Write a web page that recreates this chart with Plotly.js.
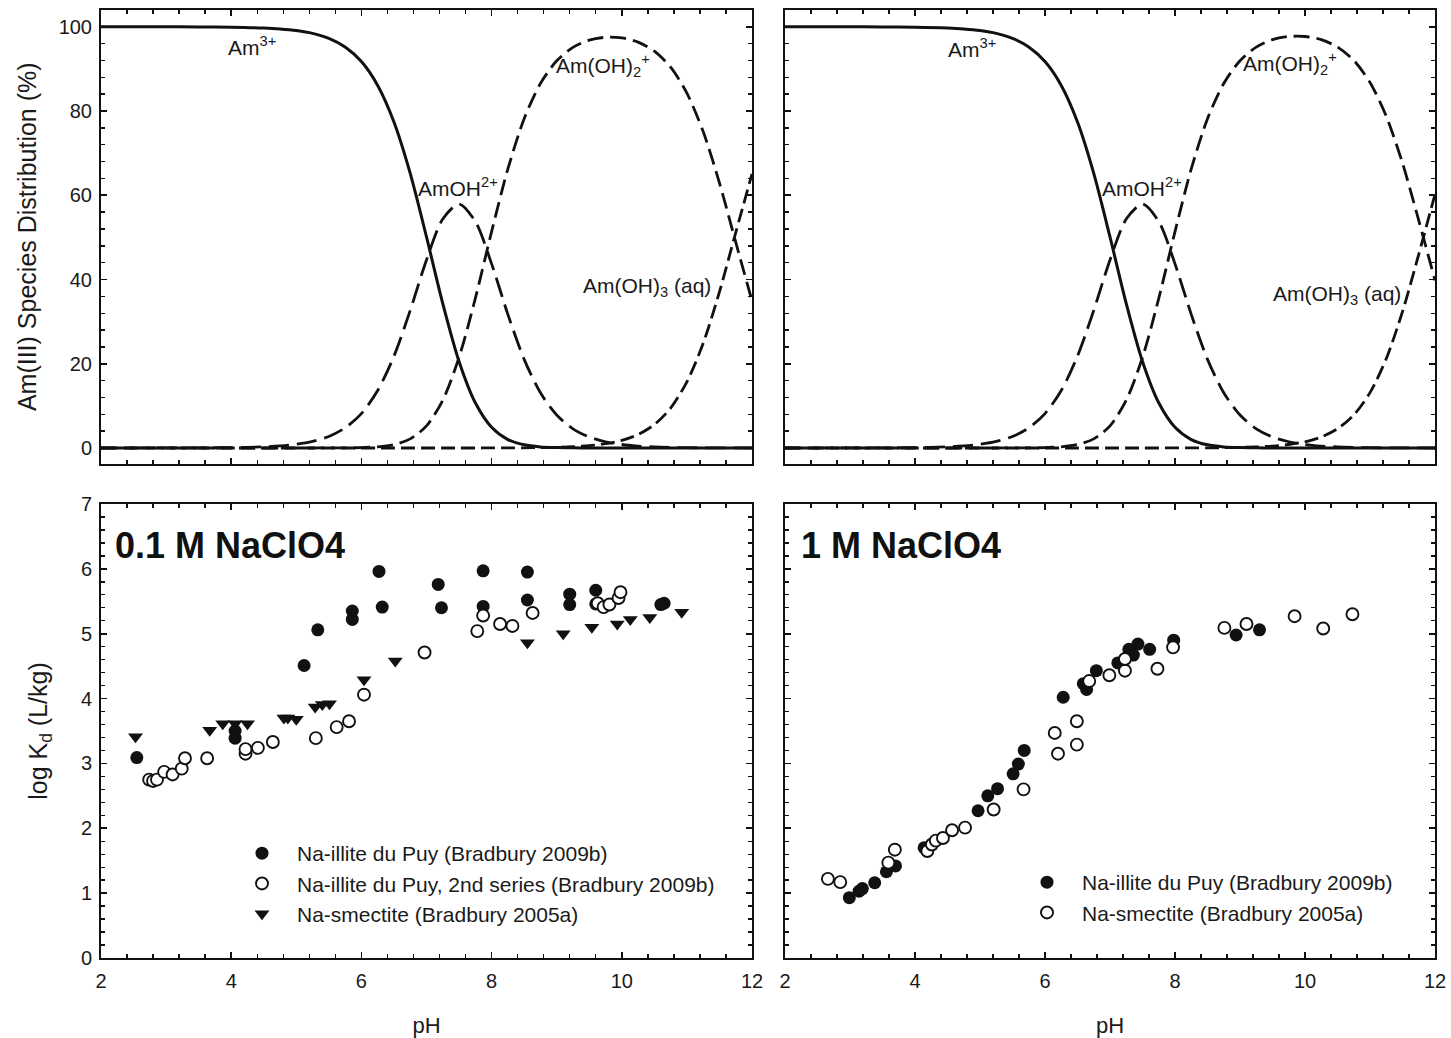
<!DOCTYPE html>
<html>
<head>
<meta charset="utf-8">
<script src="https://cdn.plot.ly/plotly-3.0.1.min.js"></script>
<style>html,body{margin:0;padding:0;background:#fff;}#chart{width:1451px;height:1038px;}</style>
</head>
<body>
<div id="chart"></div>
<script>
// ---------- Top panels: Am(III) species distribution (%) vs pH ----------
const pHcurve = [2, 3, 3.5, 4, 4.5, 4.75, 5, 5.25, 5.5, 5.75, 6, 6.25, 6.5, 6.75, 7, 7.25, 7.5, 7.75, 8, 8.25, 8.5, 8.75, 9, 9.25, 9.5, 9.75, 10, 10.25, 10.5, 10.75, 11, 11.25, 11.5, 11.75, 12];

// left (0.1 M NaClO4)
const amL      = [100, 99.99, 99.97, 99.91, 99.72, 99.50, 99.12, 98.44, 97.25, 95.20, 91.73, 86.07, 77.38, 65.18, 50.10, 34.29, 20.55, 10.73, 4.91, 2.00, 0.75, 0.26, 0.09, 0.03, 0.01, 0, 0, 0, 0, 0, 0, 0, 0, 0, 0];
const amOH_L   = [0, 0.01, 0.03, 0.09, 0.28, 0.50, 0.88, 1.56, 2.74, 4.77, 8.17, 13.64, 21.81, 32.67, 44.65, 54.35, 57.92, 53.76, 43.72, 31.72, 21.04, 13.10, 7.82, 4.55, 2.61, 1.48, 0.83, 0.46, 0.25, 0.14, 0.08, 0.04, 0.02, 0.01, 0];
const amOH2_L  = [0, 0, 0, 0, 0, 0, 0, 0, 0.01, 0.03, 0.10, 0.29, 0.81, 2.16, 5.25, 11.35, 21.52, 35.51, 51.37, 66.26, 78.17, 86.54, 91.92, 95.10, 96.82, 97.50, 97.36, 96.35, 94.20, 90.40, 84.23, 75.12, 62.94, 48.85, 34.94];
const amOH3_L  = [0, 0, 0, 0, 0, 0, 0, 0, 0, 0, 0, 0, 0, 0, 0, 0, 0, 0, 0.01, 0.02, 0.05, 0.09, 0.17, 0.31, 0.57, 1.02, 1.81, 3.19, 5.55, 9.47, 15.70, 24.87, 37.06, 51.15, 65.06];

// right (1 M NaClO4)
const amR      = [100, 99.99, 99.97, 99.91, 99.72, 99.50, 99.12, 98.44, 97.25, 95.20, 91.73, 86.07, 77.38, 65.18, 50.10, 34.29, 20.55, 10.73, 4.91, 2.00, 0.75, 0.26, 0.09, 0.03, 0.01, 0, 0, 0, 0, 0, 0, 0, 0, 0, 0];
const amOH_R   = [0, 0.01, 0.03, 0.09, 0.28, 0.50, 0.88, 1.56, 2.74, 4.77, 8.17, 13.64, 21.81, 32.67, 44.65, 54.35, 57.92, 53.76, 43.72, 31.72, 21.04, 13.10, 7.82, 4.55, 2.61, 1.48, 0.83, 0.46, 0.25, 0.14, 0.08, 0.04, 0.02, 0.01, 0];
const amOH2_R  = [0, 0, 0, 0, 0, 0, 0, 0, 0.01, 0.03, 0.10, 0.29, 0.81, 2.16, 5.25, 11.35, 21.52, 35.51, 51.37, 66.26, 78.17, 86.54, 91.95, 95.16, 96.93, 97.69, 97.69, 96.93, 95.19, 92.03, 86.78, 78.76, 67.63, 54.02, 39.78];
const amOH3_R  = [0, 0, 0, 0, 0, 0, 0, 0, 0, 0, 0, 0, 0, 0, 0, 0, 0, 0, 0.01, 0.01, 0.03, 0.07, 0.14, 0.26, 0.46, 0.83, 1.48, 2.61, 4.56, 7.83, 13.14, 21.20, 32.37, 45.98, 60.22];

// ---------- Bottom-left: 0.1 M NaClO4 sorption data ----------
const illiteL_pH = [2.55, 4.06, 4.06, 5.12, 5.33, 5.86, 5.86, 6.27, 6.32, 7.18, 7.23, 7.87, 7.87, 8.55, 8.55, 9.20, 9.20, 9.60, 9.60, 10.60, 10.65];
const illiteL_kd = [3.09, 3.50, 3.39, 4.51, 5.06, 5.35, 5.22, 5.96, 5.41, 5.76, 5.40, 5.97, 5.42, 5.95, 5.52, 5.61, 5.45, 5.67, 5.46, 5.45, 5.47];

const illite2L_pH = [2.74, 2.80, 2.86, 2.97, 3.10, 3.24, 3.29, 3.63, 4.22, 4.22, 4.41, 4.64, 5.30, 5.62, 5.81, 6.04, 6.97, 7.78, 7.87, 8.13, 8.32, 8.63, 9.63, 9.72, 9.81, 9.95, 9.98];
const illite2L_kd = [2.75, 2.73, 2.75, 2.87, 2.83, 2.92, 3.08, 3.08, 3.15, 3.22, 3.24, 3.33, 3.39, 3.56, 3.65, 4.06, 4.71, 5.04, 5.28, 5.15, 5.12, 5.32, 5.47, 5.41, 5.45, 5.55, 5.64];

const smectL_pH = [2.53, 3.67, 3.87, 4.06, 4.25, 4.81, 4.87, 5.00, 5.29, 5.40, 5.51, 6.04, 6.52, 8.55, 9.10, 9.54, 9.93, 10.13, 10.43, 10.92];
const smectL_kd = [3.41, 3.51, 3.61, 3.61, 3.61, 3.70, 3.70, 3.68, 3.87, 3.91, 3.92, 4.29, 4.58, 4.86, 5.00, 5.10, 5.15, 5.22, 5.25, 5.33];

// ---------- Bottom-right: 1 M NaClO4 sorption data ----------
const illiteR_pH = [2.99, 3.14, 3.19, 3.38, 3.56, 3.70, 4.14, 4.97, 5.12, 5.27, 5.51, 5.59, 5.68, 6.28, 6.59, 6.64, 6.79, 7.12, 7.29, 7.36, 7.43, 7.61, 7.98, 8.94, 9.30];
const illiteR_kd = [0.93, 1.03, 1.07, 1.16, 1.33, 1.42, 1.70, 2.27, 2.50, 2.61, 2.84, 2.99, 3.20, 4.02, 4.23, 4.14, 4.43, 4.55, 4.76, 4.67, 4.84, 4.76, 4.90, 4.98, 5.06];

const smectR_pH = [2.66, 2.85, 3.59, 3.69, 4.19, 4.26, 4.32, 4.43, 4.57, 4.77, 5.21, 5.67, 6.15, 6.20, 6.49, 6.49, 6.68, 6.99, 7.23, 7.23, 7.73, 7.97, 8.76, 9.10, 9.84, 10.28, 10.73];
const smectR_kd = [1.22, 1.17, 1.47, 1.67, 1.65, 1.75, 1.81, 1.85, 1.97, 2.01, 2.29, 2.60, 3.47, 3.15, 3.65, 3.29, 4.27, 4.36, 4.43, 4.61, 4.46, 4.79, 5.09, 5.15, 5.27, 5.08, 5.30];

// ---------- labels ----------
const legendNames = ["Na-illite du Puy (Bradbury 2009b)", "Na-illite du Puy, 2nd series (Bradbury 2009b)", "Na-smectite (Bradbury 2005a)"];
const speciesLabels = ["Am<sup>3+</sup>", "AmOH<sup>2+</sup>", "Am(OH)<sub>2</sub><sup>+</sup>", "Am(OH)<sub>3</sub> (aq)"];

const FONT = "Liberation Sans, Arial, Helvetica, sans-serif";
const INK = "#1a1a1a";

function speciesTraces(xa, ya, am, amOH, amOH2, amOH3) {
  const base = {x: pHcurve, xaxis: xa, yaxis: ya, mode: "lines", showlegend: false, hoverinfo: "skip"};
  return [
    Object.assign({}, base, {y: amOH3, line: {color: "#111", width: 2.8, dash: "14px,6px", shape: "spline", smoothing: 0.8}}),
    Object.assign({}, base, {y: amOH2, line: {color: "#111", width: 2.8, dash: "16px,7px", shape: "spline", smoothing: 0.8}}),
    Object.assign({}, base, {y: amOH, line: {color: "#111", width: 2.8, dash: "20px,8px", shape: "spline", smoothing: 0.8}}),
    Object.assign({}, base, {y: am, line: {color: "#111", width: 3, shape: "spline", smoothing: 0.8}})
  ];
}

const filled = {symbol: "circle", size: 13, color: "#111", line: {width: 0}};
const openC  = {symbol: "circle", size: 12, color: "#fff", line: {color: "#111", width: 1.9}};
const tri    = {symbol: "triangle-down", size: 13, color: "#111", line: {width: 0}};

const data = [].concat(
  speciesTraces("x", "y", amL, amOH_L, amOH2_L, amOH3_L),
  speciesTraces("x3", "y3", amR, amOH_R, amOH2_R, amOH3_R),
  [
    {x: illiteL_pH, y: illiteL_kd, xaxis: "x2", yaxis: "y2", mode: "markers", name: legendNames[0], marker: filled, legend: "legend"},
    {x: illite2L_pH, y: illite2L_kd, xaxis: "x2", yaxis: "y2", mode: "markers", name: legendNames[1], marker: openC, legend: "legend"},
    {x: smectL_pH, y: smectL_kd, xaxis: "x2", yaxis: "y2", mode: "markers", name: legendNames[2], marker: tri, legend: "legend"},
    {x: illiteR_pH, y: illiteR_kd, xaxis: "x4", yaxis: "y4", mode: "markers", name: legendNames[0], marker: filled, legend: "legend2"},
    {x: smectR_pH, y: smectR_kd, xaxis: "x4", yaxis: "y4", mode: "markers", name: legendNames[2], marker: openC, legend: "legend2"}
  ]
);

const W = 1451, H = 1038;
const xL = [101 / W, 752 / W], xR = [785 / W, 1435 / W];
const yTop = [1 - 464 / H, 1 - 9.5 / H], yBot = [1 - 958 / H, 1 - 504 / H];

function xax(domain, anchor, labels) {
  return {
    domain: domain, anchor: anchor, range: [2, 12], tick0: 2, dtick: 2,
    ticks: "inside", ticklen: 6, tickwidth: 1.6, tickcolor: "#111",
    minor: {dtick: 0.4, tick0: 2, ticks: "inside", ticklen: 4, tickwidth: 1.4, tickcolor: "#111"},
    showline: true, linecolor: "#111", linewidth: 2, mirror: "ticks",
    showgrid: false, zeroline: false, showticklabels: labels, ticklabelstandoff: 4,
    tickfont: {family: FONT, size: 20, color: INK},
    title: labels ? {text: "pH", font: {family: FONT, size: 22, color: INK}, standoff: 27} : {text: ""}
  };
}
function yax(domain, anchor, range, dtick, mdtick, labels, title, standoff) {
  return {
    domain: domain, anchor: anchor, range: range, tick0: 0, dtick: dtick,
    ticks: "inside", ticklen: 6, tickwidth: 1.6, tickcolor: "#111",
    minor: {dtick: mdtick, tick0: 0, ticks: "inside", ticklen: 4, tickwidth: 1.4, tickcolor: "#111"},
    showline: true, linecolor: "#111", linewidth: 2, mirror: "ticks",
    showgrid: false, zeroline: false, showticklabels: labels, ticklabelstandoff: 3,
    tickfont: {family: FONT, size: 20, color: INK},
    title: title ? {text: title, font: {family: FONT, size: 25, color: INK}, standoff: standoff} : {text: ""}
  };
}

const annFont = {family: FONT, size: 21, color: INK};
const annotations = [
  {xref: "x", yref: "y", x: 4.32, y: 95.4, text: speciesLabels[0]},
  {xref: "x", yref: "y", x: 7.48, y: 62, text: speciesLabels[1]},
  {xref: "x", yref: "y", x: 9.71, y: 90.7, text: speciesLabels[2]},
  {xref: "x", yref: "y", x: 10.39, y: 38.2, text: speciesLabels[3]},
  {xref: "x3", yref: "y3", x: 4.88, y: 95, text: speciesLabels[0]},
  {xref: "x3", yref: "y3", x: 7.49, y: 62, text: speciesLabels[1]},
  {xref: "x3", yref: "y3", x: 9.77, y: 91.4, text: speciesLabels[2]},
  {xref: "x3", yref: "y3", x: 10.49, y: 36.3, text: speciesLabels[3]}
].map(a => Object.assign({showarrow: false, font: annFont, xanchor: "center", yanchor: "middle"}, a));

annotations.push(
  {xref: "x2", yref: "y2", x: 2.19, y: 6.36, text: "<b>0.1 M NaClO4</b>", showarrow: false, xanchor: "left", yanchor: "middle", font: {family: FONT, size: 36, color: "#111"}},
  {xref: "x4", yref: "y4", x: 2.21, y: 6.36, text: "<b>1 M NaClO4</b>", showarrow: false, xanchor: "left", yanchor: "middle", font: {family: FONT, size: 36, color: "#111"}}
);

const legFont = {family: FONT, size: 21, color: INK};
const layout = {
  width: W, height: H,
  margin: {l: 0, r: 0, t: 0, b: 0},
  paper_bgcolor: "#fff", plot_bgcolor: "#fff",
  font: {family: FONT, color: INK},
  showlegend: true,
  xaxis: xax(xL, "y", false),
  yaxis: yax(yTop, "x", [-3.8, 104.1], 20, 4, true, "Am(III) Species Distribution (%)", 15),
  xaxis2: xax(xL, "y2", true),
  yaxis2: yax(yBot, "x2", [0, 7], 1, 0.2, true, "log K<sub>d</sub> (L/kg)", 26),
  xaxis3: xax(xR, "y3", false),
  yaxis3: yax(yTop, "x3", [-3.8, 104.1], 20, 4, false, null, 0),
  xaxis4: xax(xR, "y4", true),
  yaxis4: yax(yBot, "x4", [0, 7], 1, 0.2, false, null, 0),
  legend: {x: 227 / W, y: 1 - 833 / H, xanchor: "left", yanchor: "top", bgcolor: "rgba(0,0,0,0)", font: legFont, traceorder: "normal", itemwidth: 60, borderwidth: 0},
  legend2: {x: 1012 / W, y: 1 - 862 / H, xanchor: "left", yanchor: "top", bgcolor: "rgba(0,0,0,0)", font: legFont, traceorder: "normal", itemwidth: 60, borderwidth: 0},
  annotations: annotations
};

Plotly.newPlot("chart", data, layout, {displayModeBar: false, staticPlot: true});
</script>
</body>
</html>
